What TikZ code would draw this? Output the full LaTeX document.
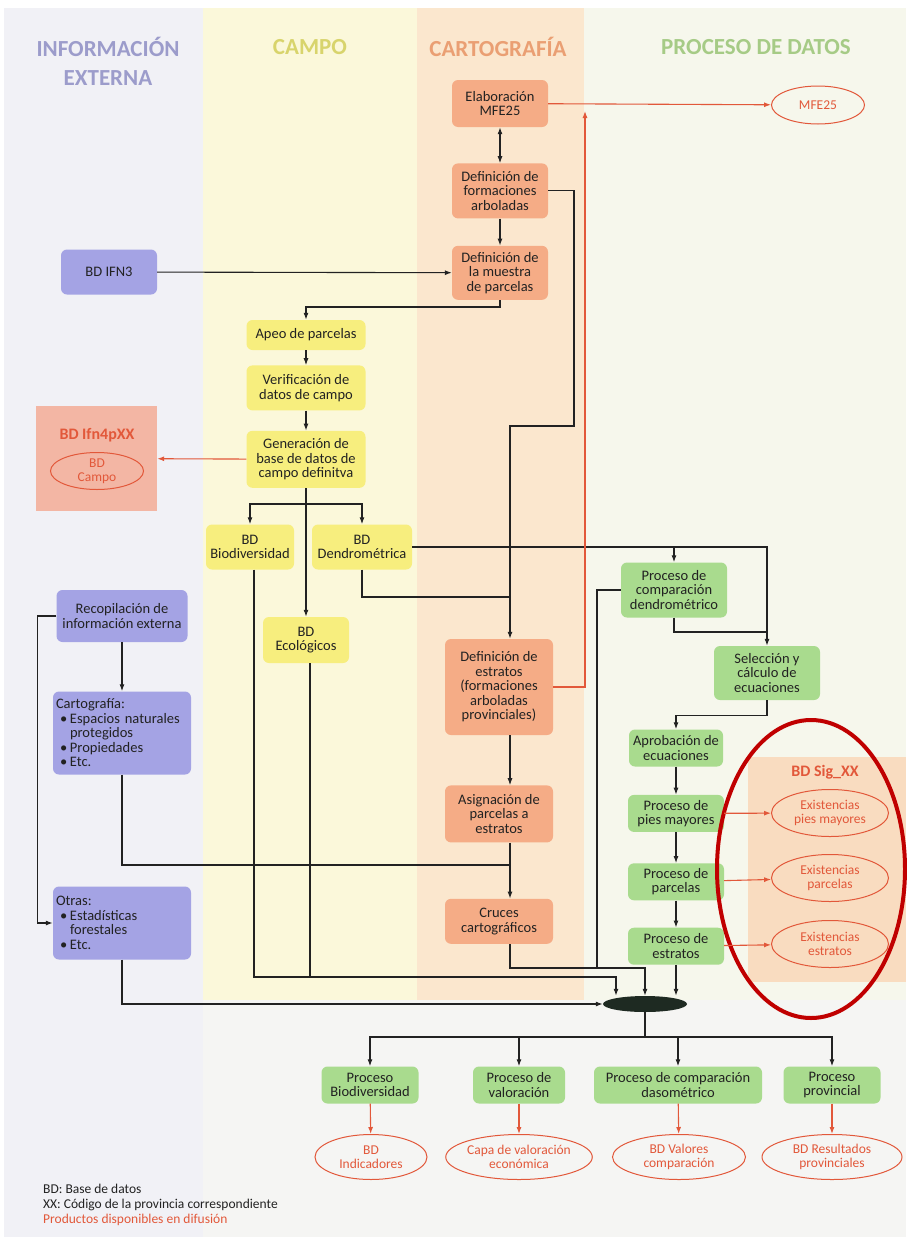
\documentclass[tikz,border=0pt]{standalone}
\usepackage{fontspec}
\setmainfont{Carlito}
\usetikzlibrary{arrows.meta,positioning,shapes.geometric,calc}

\definecolor{cartfill}{HTML}{F5AC86}
\definecolor{campfill}{HTML}{F7EE7E}
\definecolor{procfill}{HTML}{A9DB8E}
\definecolor{extfill}{HTML}{A4A3E4}
\definecolor{prodred}{HTML}{E2583A}
\definecolor{inkgray}{HTML}{222222}
\definecolor{pagebg}{HTML}{F5F5F3}
\definecolor{laneext}{HTML}{F1F1F6}
\definecolor{lanecamp}{HTML}{FBF8DA}
\definecolor{lanecart}{HTML}{FBE7CE}
\definecolor{laneproc}{HTML}{F6F7EC}
\definecolor{ifnfill}{HTML}{F3B6A4}
\definecolor{sigfill}{HTML}{F9DCC0}
\definecolor{hilite}{HTML}{C00000}
\definecolor{hubfill}{HTML}{1E2A22}
\definecolor{hdext}{HTML}{9C9CCB}
\definecolor{hdcamp}{HTML}{D8D46C}
\definecolor{hdcart}{HTML}{EA9F73}
\definecolor{hdproc}{HTML}{A6CB86}

\newcommand{\itm}{\hspace*{4pt}\makebox[10pt][l]{\textbullet}}
\newcommand{\itc}{\hspace*{14pt}}

\begin{document}
\begin{tikzpicture}[
  x=1pt, y=-1pt,
  font=\fontsize{14.5}{14.5}\selectfont,
  >={Latex[length=7pt,width=5pt]},
  box/.style={rounded corners=6pt, align=center, inner sep=2pt, text=inkgray},
  cart/.style={box, fill=cartfill},
  camp/.style={box, fill=campfill},
  proc/.style={box, fill=procfill},
  ext/.style={box, fill=extfill},
  prod/.style={ellipse, draw=prodred, line width=1pt, text=prodred, align=center,
               inner sep=0pt, font=\fontsize{13.5}{14}\selectfont},
  hdr/.style={font=\fontsize{23}{29}\selectfont\bfseries, align=center},
  ttl/.style={font=\fontsize{16}{18}\selectfont\bfseries, text=prodred},
  arr/.style={->, line width=1.1pt, draw=inkgray},
  link/.style={line width=1.1pt, draw=inkgray},
  rarr/.style={->, line width=1.1pt, draw=prodred}
]
\useasboundingbox (0,0) rectangle (906,1237);
% lanes
\fill[white] (0,0) rectangle (906,1237);
\fill[pagebg] (4,8) rectangle (906,1237);
\fill[laneext] (4,8) rectangle (203,1237);
\fill[lanecamp] (203,8) rectangle (417,1000);
\fill[lanecart] (417,8) rectangle (584,1000);
\fill[laneproc] (584,8) rectangle (906,1000);

\node[hdr, text=hdext] (hext) at (108,61) {INFORMACIÓN\\EXTERNA};
\node[hdr, text=hdcamp] (hcamp) at (310,47) {CAMPO};
\node[hdr, text=hdcart] (hcart) at (498,47) {CARTOGRAFÍA};
\node[hdr, text=hdproc] (hproc) at (756,47) {PROCESO DE DATOS};

% product boxes
\node[fill=ifnfill, minimum width=121pt, minimum height=105pt, inner sep=0pt] (ifn4) at (96.5,458.5) {};
\node[ttl] (ifn4t) at (97,435) {BD Ifn4pXX};
\node[prod, minimum width=93pt, minimum height=37pt] (campo) at (97,471) {BD\\Campo};
\node[fill=sigfill, minimum width=158pt, minimum height=225pt, inner sep=0pt] (sig) at (827,869.5) {};
\node[ttl] (sigt) at (825,772) {BD Sig\_XX};

% cartografia
\node[cart, minimum width=96pt, minimum height=47pt] (elab) at (500,103.5) {Elaboración\\MFE25};
\node[cart, minimum width=96pt, minimum height=55pt, below=36pt of elab] (deffor) {Definición de\\formaciones\\arboladas};
\node[cart, minimum width=96pt, minimum height=54pt, below=27pt of deffor] (defmue) {Definición de\\la muestra\\de parcelas};
\node[cart, minimum width=108pt, minimum height=96pt] (defest) at (499,687) {Definición de\\estratos\\(formaciones\\arboladas\\provinciales)};
\node[cart, minimum width=108pt, minimum height=57pt, below=50pt of defest] (asig) {Asignación de\\parcelas a\\estratos};
\node[cart, minimum width=108pt, minimum height=45pt, below=56pt of asig] (cruces) {Cruces\\cartográficos};

% campo
\node[camp, minimum width=119pt, minimum height=30pt] (apeo) at (306,335) {Apeo de parcelas};
\node[camp, minimum width=119pt, minimum height=45pt, below=15pt of apeo] (verif) {Verificación de\\datos de campo};
\node[camp, minimum width=119pt, minimum height=57pt, below=20pt of verif] (gen) {Generación de\\base de datos de\\campo definitva};
\node[camp, minimum width=88pt, minimum height=45pt] (biodiv) at (250,547) {BD\\Biodiversidad};
\node[camp, minimum width=100pt, minimum height=45pt] (dendro) at (362,547) {BD\\Dendrométrica};
\node[camp, minimum width=86pt, minimum height=46pt] (ecol) at (306,640) {BD\\Ecológicos};

% informacion externa
\node[ext, minimum width=96pt, minimum height=45pt] (ifn3) at (109,272) {BD IFN3};
\node[ext, minimum width=131pt, minimum height=52pt] (recop) at (122,616) {Recopilación de\\información externa};
\node[ext, text width=132pt, inner sep=3pt, align=left, minimum height=83pt] (carto) at (122,733)
  {Cartografía:\\\itm Espacios naturales\\\itc protegidos\\\itm Propiedades\\\itm Etc.};
\node[ext, text width=132pt, inner sep=3pt, align=left, minimum height=73pt] (otras) at (122,923)
  {Otras:\\\itm Estadísticas\\\itc forestales\\\itm Etc.};

% proceso de datos
\node[proc, minimum width=106pt, minimum height=55pt] (comp) at (674,590) {Proceso de\\comparación\\dendrométrico};
\node[proc, minimum width=106pt, minimum height=54pt] (sel) at (767,673) {Selección y\\cálculo de\\ecuaciones};
\node[proc, minimum width=94pt, minimum height=37pt] (aprob) at (676,748) {Aprobación de\\ecuaciones};
\node[proc, minimum width=96pt, minimum height=37pt, below=28pt of aprob] (pies) {Proceso de\\pies mayores};
\node[proc, minimum width=96pt, minimum height=37pt, below=31pt of pies] (parc) {Proceso de\\parcelas};
\node[proc, minimum width=96pt, minimum height=37pt, below=27pt of parc] (estr) {Proceso de\\estratos};

\node[prod, minimum width=93pt, minimum height=38pt] (mfe) at (818,105) {MFE25};
\node[prod, minimum width=117pt, minimum height=47pt] (ex1) at (830,813) {Existencias\\pies mayores};
\node[prod, minimum width=117pt, minimum height=47pt] (ex2) at (830,878) {Existencias\\parcelas};
\node[prod, minimum width=117pt, minimum height=47pt] (ex3) at (830,944) {Existencias\\estratos};

\node[ellipse, fill=hubfill, minimum width=84pt, minimum height=16pt, inner sep=0pt] (hub) at (645,1004) {};

\node[proc, minimum width=97pt, minimum height=37pt] (pbio) at (370,1085) {Proceso\\Biodiversidad};
\node[proc, minimum width=92pt, minimum height=37pt] (pval) at (519,1085) {Proceso de\\valoración};
\node[proc, minimum width=168pt, minimum height=37pt] (pcomp) at (678,1085) {Proceso de comparación\\dasométrico};
\node[proc, minimum width=97pt, minimum height=37pt] (pprov) at (832,1085) {Proceso\\provincial};

\node[prod, minimum width=112pt, minimum height=45pt] (bdind) at (371,1157) {BD\\Indicadores};
\node[prod, minimum width=142pt, minimum height=45pt] (capa) at (519,1157) {Capa de valoración\\económica};
\node[prod, minimum width=133pt, minimum height=45pt] (bdval) at (679,1157) {BD Valores\\comparación};
\node[prod, minimum width=140pt, minimum height=45pt] (bdres) at (832,1157) {BD Resultados\\provinciales};

\node[ellipse, draw=hilite, line width=4pt, minimum width=188pt, minimum height=298pt] (hl) at (811,869) {};

\node[anchor=north west, align=left, inner sep=0pt, text=inkgray, font=\fontsize{13.5}{15}\selectfont] (leg) at (43,1184)
  {BD: Base de datos\\XX: Código de la provincia correspondiente\\\textcolor{prodred}{Productos disponibles en difusión}};

% bends
\coordinate (jA) at (574,426);
\coordinate (jB) at (510,597);
\coordinate (gsplit) at (306,504);
\coordinate (jC) at (766,632);
\coordinate (jD) at (597,968);
\coordinate (jE) at (645,968);
\coordinate (jF) at (616,977);
\coordinate (jG) at (510,865);
\coordinate (jH) at (585,111);
\coordinate (jI) at (645,1037);

% connectors
\draw[arr, <->] (elab) -- (deffor);
\draw[arr] (deffor) -- (defmue);
\draw[arr] (ifn3) -- (defmue);
\draw[arr] (defmue.south) -- ++(0,7) -| (apeo.north);
\draw[arr] (apeo) -- (verif);
\draw[arr] (verif) -- (gen);
\draw[link] (gen.south) -- (gsplit);
\draw[arr] (gsplit) -| (biodiv.north);
\draw[arr] (gsplit) -| (dendro.north);
\draw[arr] (gsplit) -- (ecol.north);
\draw[arr] (deffor.east) -| (jA) -| ([xshift=11pt]defest.north);
\draw[link] (dendro.south) |- (jB);
\draw[arr] (dendro.east) -| (sel.north);
\draw[arr] (dendro.east -| comp.north) -- (comp.north);
\draw[link] (comp.south) |- (jC);
\draw[link] (comp.west) -| (jD);
\draw[arr] ([xshift=11pt]cruces.south) |- (jE) -- (hub);
\draw[arr] ([xshift=4pt]biodiv.south) |- (jF) -- (jF |- hub.north);
\draw[link] ([xshift=4pt]ecol.south) -- ([xshift=4pt]ecol.south |- jF);
\draw[arr] (estr) -- (estr |- hub.north);
\draw[arr] (otras.south) |- (hub.west);
\draw[arr] (recop) -- (carto);
\draw[arr] (recop.west) -- ++(-19,0) |- (otras.west);
\draw[link] (carto.south) |- (jG);
\draw[arr] ([xshift=11pt]defest.south) -- ([xshift=11pt]asig.north);
\draw[arr] ([xshift=11pt]asig.south) -- ([xshift=11pt]cruces.north);
\draw[arr] (sel.south) -- ++(0,15) -| (aprob.north);
\draw[arr] (aprob) -- (pies);
\draw[arr] (pies) -- (parc);
\draw[arr] (parc) -- (estr);
\draw[link] (hub.south) -- (jI);
\draw[arr] (jI) -| (pbio.north);
\draw[arr] (jI) -| (pval.north);
\draw[arr] (jI) -| (pcomp.north);
\draw[arr] (jI) -| (pprov.north);

% products (red)
\draw[rarr] (gen) -- (ifn4);
\draw[rarr] (elab) -- (mfe);
\draw[rarr] (defest.east) -| (jH);
\draw[rarr] (pies) -- (ex1);
\draw[rarr] (parc) -- (ex2);
\draw[rarr] (estr) -- (ex3);
\draw[rarr] (pbio) -- (bdind);
\draw[rarr] (pval) -- (capa);
\draw[rarr] (pcomp) -- (bdval);
\draw[rarr] (pprov) -- (bdres);
\end{tikzpicture}
\end{document}
